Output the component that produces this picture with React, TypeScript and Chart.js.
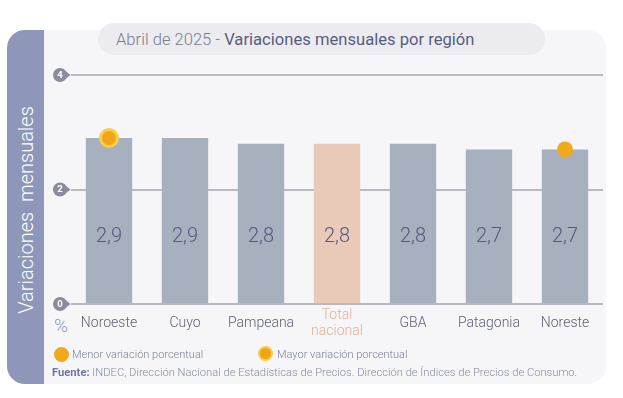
import React, { useEffect, useRef } from "react";
import { Chart, registerables } from "chart.js";

Chart.register(...registerables);

const categories: (string | string[])[] = ["Noroeste", "Cuyo", "Pampeana", ["Total", "nacional"], "GBA", "Patagonia", "Noreste"];
const values = [2.9, 2.9, 2.8, 2.8, 2.8, 2.7, 2.7];
const valueLabels = ["2,9", "2,9", "2,8", "2,8", "2,8", "2,7", "2,7"];
const mayorVariacion = [2.9, null, null, null, null, null, null];
const menorVariacion = [null, null, null, null, null, null, 2.7];
const yTicks = [0, 2, 4];
const totalIndex = 3;

const FONT = "Roboto, 'Liberation Sans', sans-serif";
const BAR = "#a6b0be";
const BAR_TOTAL = "#e9cab9";

const overlayPlugin = {
  id: "overlay",
  beforeDatasetsDraw(chart: any) {
    const { ctx, scales } = chart;
    const y = scales.y;
    const left = chart.chartArea.left;
    ctx.save();
    yTicks.forEach((t) => {
      const py = y.getPixelForValue(t);
      const cx = left - 11;
      ctx.fillStyle = "#8a8c9c";
      ctx.beginPath();
      ctx.arc(cx, py, 7, 0, Math.PI * 2);
      ctx.fill();
      ctx.beginPath();
      ctx.moveTo(cx + 3, py - 6);
      ctx.lineTo(cx + 10.5, py);
      ctx.lineTo(cx + 3, py + 6);
      ctx.closePath();
      ctx.fill();
      ctx.fillStyle = "#ffffff";
      ctx.font = `bold 9.5px ${FONT}`;
      ctx.textAlign = "center";
      ctx.textBaseline = "middle";
      ctx.fillText(String(t), cx, py + 0.5);
    });
    ctx.restore();
  },
  afterDatasetsDraw(chart: any) {
    const { ctx, scales } = chart;
    const meta = chart.getDatasetMeta(0);
    ctx.save();
    ctx.font = `300 20px ${FONT}`;
    ctx.fillStyle = "#545a80";
    ctx.textAlign = "center";
    ctx.textBaseline = "middle";
    meta.data.forEach((bar: any, i: number) => {
      ctx.fillText(valueLabels[i], bar.x, scales.y.getPixelForValue(1.17));
    });
    ctx.restore();
  },
};

export default function App() {
  const ref = useRef<HTMLCanvasElement>(null);
  useEffect(() => {
    if (!ref.current) return;
    const chart = new Chart(ref.current, {
      type: "bar",
      data: {
        labels: categories as any,
        datasets: [
          {
            type: "bar",
            data: values,
            backgroundColor: values.map((_, i) => (i === totalIndex ? BAR_TOTAL : BAR)),
            borderWidth: 0,
            categoryPercentage: 1,
            barPercentage: 0.61,
            order: 2,
          } as any,
          {
            type: "line",
            data: mayorVariacion,
            showLine: false,
            pointRadius: 8.5,
            pointBackgroundColor: "#f0a61a",
            pointBorderColor: "#f7cd4a",
            pointBorderWidth: 3,
            order: 1,
          } as any,
          {
            type: "line",
            data: menorVariacion,
            showLine: false,
            pointRadius: 8,
            pointBackgroundColor: "#f2a81c",
            pointBorderColor: "#f2a81c",
            pointBorderWidth: 0,
            order: 1,
          } as any,
        ],
      },
      options: {
        animation: false,
        responsive: false,
        layout: { padding: { left: 71, right: 20, top: 75, bottom: 54 } },
        plugins: { legend: { display: false }, tooltip: { enabled: false } },
        scales: {
          x: {
            grid: { display: false },
            border: { display: false },
            afterFit: (s: any) => { s.height = 40; },
            ticks: {
              padding: 3,
              crossAlign: "center",
              font: { family: FONT, size: 14, weight: 300, lineHeight: 1.15 } as any,
              color: (c: any) => (c.index === totalIndex ? "#dfb196" : "#5f6275"),
            },
          },
          y: {
            min: 0,
            max: 4,
            afterFit: (s: any) => { s.width = 0; },
            afterBuildTicks: (s: any) => { s.ticks = yTicks.map((v) => ({ value: v })); },
            ticks: { display: false },
            border: { display: false },
            grid: { color: "#b9b9c2", lineWidth: 2, drawTicks: false },
          },
        },
      },
      plugins: [overlayPlugin],
    });
    return () => chart.destroy();
  }, []);

  return (
    <div style={{ position: "fixed", left: 0, top: 0, width: 623, height: 398, background: "#ffffff", fontFamily: FONT, overflow: "hidden" }}>
      <div style={{ position: "absolute", left: 8, top: 30, width: 598, height: 354, background: "#f6f6f9", borderRadius: 18 }} />
      <div style={{ position: "absolute", left: 7, top: 30, width: 37, height: 354, background: "#8e97b9", borderRadius: "18px 0 0 18px" }} />
      <div style={{ position: "absolute", left: 26, top: 210, transform: "translate(-50%, -50%) rotate(-90deg)", color: "#ffffff", fontSize: 20, fontWeight: 300, whiteSpace: "pre" }}>
        Variaciones  mensuales
      </div>
      <div style={{ position: "absolute", left: 98, top: 23, width: 447, height: 32, background: "#ececf0", borderRadius: 16 }} />
      <div style={{ position: "absolute", left: 116, top: 30, fontSize: 16.6, lineHeight: "19px", whiteSpace: "pre" }}>
        <span style={{ color: "#7b7c8a", fontWeight: 300 }}>Abril de 2025 - </span>
        <span style={{ color: "#585d80", fontWeight: 400 }}>Variaciones mensuales por región</span>
      </div>
      <div style={{ position: "absolute", left: 54, top: 314, fontSize: 19, color: "#8e97b9", fontWeight: 300 }}>%</div>
      <canvas ref={ref} width={623} height={398} style={{ position: "absolute", left: 0, top: 0, width: 623, height: 398 }} />
      <div style={{ position: "absolute", left: 54, top: 347, width: 15, height: 15, borderRadius: "50%", background: "#f2a81c" }} />
      <div style={{ position: "absolute", left: 72, top: 347, fontSize: 11, lineHeight: "15px", color: "#7c8096", fontWeight: 300, whiteSpace: "pre" }}>Menor variación porcentual</div>
      <div style={{ position: "absolute", left: 258, top: 346, width: 11, height: 11, borderRadius: "50%", background: "#f0a61a", border: "2.5px solid #f7cd4a" }} />
      <div style={{ position: "absolute", left: 277, top: 347, fontSize: 11, lineHeight: "15px", color: "#7c8096", fontWeight: 300, whiteSpace: "pre" }}>Mayor variación porcentual</div>
      <div style={{ position: "absolute", left: 52, top: 366, fontSize: 11.2, lineHeight: "14px", color: "#868aa0", fontWeight: 300, whiteSpace: "pre" }}>
        <span style={{ fontWeight: 700, color: "#6d76a0" }}>Fuente:</span> INDEC, Dirección Nacional de Estadísticas de Precios. Dirección de Índices de Precios de Consumo.
      </div>
    </div>
  );
}
